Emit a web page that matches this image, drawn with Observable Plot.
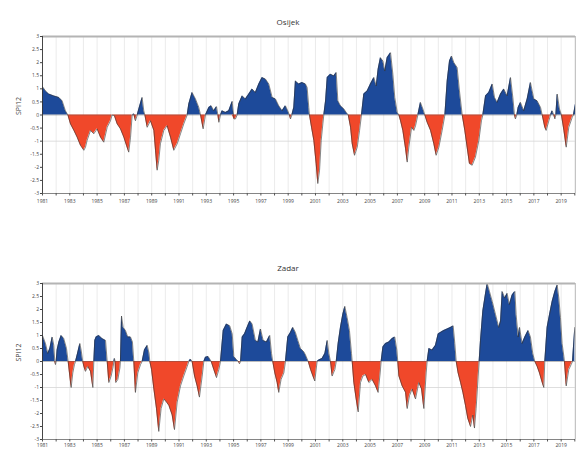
<!DOCTYPE html>
<html><head><meta charset="utf-8">
<script src="https://cdn.jsdelivr.net/npm/d3@7"></script>
<script src="https://cdn.jsdelivr.net/npm/@observablehq/plot@0.6"></script>
<style>
html,body{margin:0;padding:0;overflow:hidden;background:#fff;font-family:"Open Sans",sans-serif}
#wrap{position:relative;width:576px;height:450px;overflow:hidden}
.panel{position:absolute;left:0}
.title{position:absolute;left:0;width:576px;text-align:center;font-size:8px;color:#333;line-height:10px}
</style></head><body><div id="wrap"></div>
<script>
const stations = ["Osijek", "Zadar"];
const yAxisLabel = "SPI12";
const yTicks = [-3,-2.5,-2,-1.5,-1,-0.5,0,0.5,1,1.5,2,2.5,3];
const yearTicks = [1981,1982,1983,1984,1985,1986,1987,1988,1989,1990,1991,1992,1993,1994,1995,1996,1997,1998,1999,2000,2001,2002,2003,2004,2005,2006,2007,2008,2009,2010,2011,2012,2013,2014,2015,2016,2017,2018,2019,2020];
const labelYears = [1981,1983,1985,1987,1989,1991,1993,1995,1997,1999,2001,2003,2005,2007,2009,2011,2013,2015,2017,2019];
const droughtLine = [-1];

const osijekYears = [
1981.00,1981.22,1981.46,1981.83,1982.20,1982.44,1982.68,1982.86,1983.05,1983.30,
1983.54,1983.78,1984.03,1984.15,1984.27,1984.52,1984.76,1985.00,1985.25,1985.49,
1985.74,1985.98,1986.10,1986.27,1986.47,1986.71,1986.96,1987.15,1987.32,1987.45,
1987.57,1987.69,1987.81,1987.94,1988.06,1988.30,1988.42,1988.50,1988.67,1988.91,
1989.16,1989.28,1989.40,1989.52,1989.64,1989.89,1990.13,1990.38,1990.62,1990.87,
1991.11,1991.35,1991.60,1991.72,1991.96,1992.21,1992.45,1992.58,1992.77,1992.94,
1993.19,1993.36,1993.55,1993.75,1993.85,1993.92,1994.04,1994.16,1994.41,1994.65,
1994.90,1995.02,1995.14,1995.26,1995.38,1995.63,1995.87,1996.12,1996.36,1996.60,
1996.85,1997.09,1997.34,1997.58,1997.83,1998.07,1998.31,1998.56,1998.80,1998.97,
1999.09,1999.17,1999.27,1999.41,1999.53,1999.78,2000.02,2000.27,2000.39,2000.51,
2000.56,2000.71,2000.88,2001.05,2001.17,2001.30,2001.42,2001.54,2001.61,2001.74,
2001.86,2002.10,2002.35,2002.52,2002.64,2002.83,2003.08,2003.25,2003.40,2003.57,
2003.69,2003.86,2004.06,2004.23,2004.37,2004.54,2004.79,2005.03,2005.28,2005.45,
2005.59,2005.76,2005.94,2006.08,2006.25,2006.50,2006.67,2006.81,2006.99,2007.11,
2007.23,2007.40,2007.60,2007.72,2007.84,2008.04,2008.21,2008.33,2008.50,2008.69,
2008.87,2009.01,2009.18,2009.43,2009.67,2009.84,2010.04,2010.28,2010.48,2010.65,
2010.82,2010.97,2011.14,2011.38,2011.55,2011.75,2011.94,2012.11,2012.28,2012.48,
2012.72,2012.97,2013.16,2013.26,2013.46,2013.70,2013.95,2014.12,2014.31,2014.56,
2014.80,2015.04,2015.29,2015.46,2015.58,2015.65,2015.75,2015.85,2016.02,2016.26,
2016.51,2016.75,2017.00,2017.24,2017.49,2017.61,2017.80,2017.90,2018.10,2018.22,
2018.34,2018.46,2018.54,2018.61,2018.71,2018.88,2019.02,2019.20,2019.37,2019.56,
2019.81,2019.90,2020.05];
const osijekValues = [
1.08,0.92,0.80,0.73,0.67,0.54,0.16,0,-0.34,-0.59,
-0.85,-1.16,-1.35,-1.23,-0.97,-0.59,-0.72,-0.53,-0.85,-1.04,
-0.47,-0.22,0,-0.03,-0.34,-0.53,-0.85,-1.16,-1.42,-0.85,
0,0.04,-0.22,0,0.23,0.67,0.16,0,-0.47,-0.22,
-0.59,-1.35,-2.11,-1.73,-1.10,-0.59,-0.41,-0.85,-1.35,-1.10,
-0.72,-0.34,0,0.42,0.86,0.61,0.29,0,-0.53,0,
0.29,0.35,0.16,0.32,0,-0.28,0,0.16,0.10,0.16,
0.52,-0.15,-0.15,0,0.42,0.73,0.61,0.80,0.99,0.86,
1.18,1.43,1.37,1.18,0.67,0.61,0.35,0.16,0.35,0.16,
0,-0.15,0,0.29,1.30,1.18,1.24,1.18,1.05,0.29,
0,-0.47,-0.97,-1.86,-2.62,-2.11,-0.97,-0.34,0,0.54,
1.43,1.56,1.49,1.62,0.54,0.35,0.23,0.10,0,-0.47,
-1.10,-1.54,-1.23,-0.59,0,0.80,0.92,1.18,1.43,1.11,
1.75,2.19,2.06,1.68,2.19,2.38,1.56,0.67,0.10,0,
-0.22,-0.59,-1.29,-1.80,-1.23,-0.47,-0.59,-0.41,0,0.48,
0.23,0,-0.28,-0.59,-1.10,-1.54,-1.23,-0.59,0,1.30,
2.06,2.25,2.00,1.81,0.92,0,-0.59,-1.23,-1.86,-1.92,
-1.61,-0.97,-0.22,0,0.73,0.86,1.18,0.67,0.48,0.80,
0.99,0.73,1.43,0.67,0,-0.15,0,0.29,0.48,0.16,
0.61,1.24,0.61,0.54,0.29,0,-0.47,-0.59,-0.22,0,
0.16,0,-0.15,0,0.80,0.23,0,-0.59,-1.23,-0.47,
-0.09,0,0.42];

const zadarYears = [
1981.00,1981.22,1981.39,1981.54,1981.71,1981.83,1981.90,1981.95,1982.00,1982.07,
1982.20,1982.37,1982.56,1982.76,1982.88,1983.00,1983.10,1983.22,1983.34,1983.42,
1983.54,1983.74,1983.83,1983.95,1984.03,1984.15,1984.32,1984.52,1984.69,1984.76,
1984.83,1984.93,1985.13,1985.37,1985.62,1985.74,1985.86,1986.03,1986.18,1986.23,
1986.27,1986.32,1986.37,1986.52,1986.67,1986.71,1986.79,1986.91,1987.08,1987.25,
1987.45,1987.59,1987.69,1987.81,1987.98,1988.18,1988.30,1988.47,1988.67,1988.81,
1988.86,1988.99,1989.16,1989.35,1989.52,1989.69,1989.89,1990.08,1990.26,1990.50,
1990.67,1990.87,1991.11,1991.35,1991.60,1991.72,1991.84,1991.96,1992.14,1992.33,
1992.50,1992.70,1992.82,1992.94,1993.14,1993.36,1993.55,1993.75,1993.92,1994.04,
1994.24,1994.48,1994.72,1994.90,1995.02,1995.26,1995.36,1995.43,1995.51,1995.63,
1995.80,1995.99,1996.19,1996.36,1996.60,1996.78,1996.97,1997.17,1997.41,1997.65,
1997.78,1997.87,1998.02,1998.19,1998.31,1998.48,1998.68,1998.80,1998.97,1999.17,
1999.34,1999.53,1999.71,1999.90,2000.15,2000.27,2000.47,2000.64,2000.81,2000.95,
2001.12,2001.25,2001.49,2001.69,2001.86,2001.98,2002.10,2002.22,2002.42,2002.52,
2002.66,2002.83,2003.00,2003.15,2003.32,2003.49,2003.64,2003.69,2003.81,2003.98,
2004.13,2004.30,2004.47,2004.67,2004.91,2005.15,2005.40,2005.59,2005.74,2005.81,
2005.94,2006.13,2006.38,2006.62,2006.81,2006.96,2007.03,2007.11,2007.35,2007.60,
2007.72,2007.89,2008.08,2008.33,2008.57,2008.77,2008.94,2009.11,2009.18,2009.31,
2009.55,2009.79,2009.99,2010.16,2010.40,2010.65,2010.89,2011.09,2011.21,2011.31,
2011.45,2011.63,2011.80,2011.99,2012.16,2012.36,2012.53,2012.65,2012.77,2012.92,
2012.99,2013.09,2013.26,2013.46,2013.58,2013.75,2013.95,2014.19,2014.43,2014.56,
2014.68,2014.87,2015.04,2015.21,2015.41,2015.61,2015.70,2015.85,2015.95,2016.14,
2016.34,2016.58,2016.75,2016.92,2017.07,2017.24,2017.41,2017.61,2017.73,2017.80,
2017.97,2018.15,2018.34,2018.54,2018.71,2018.83,2018.95,2019.07,2019.20,2019.24,
2019.37,2019.56,2019.73,2019.83,2020.00];
const zadarValues = [
1.00,0.69,0.31,0.50,0.94,0.62,0,-0.12,0,0.44,
0.75,1.00,0.88,0.50,0,-0.56,-1.00,-0.44,-0.12,0,
0.25,0.69,0.44,0,-0.19,-0.38,-0.19,-0.38,-1.00,0,
0.81,0.94,1.00,0.88,0.81,0,-0.81,-0.56,-0.19,0,
0.12,0,-0.81,-0.69,-0.25,0,1.75,1.31,1.19,0.94,
0.94,0.75,0,-1.19,-0.44,-0.12,0,0.44,0.62,0.31,
0,-0.31,-1.06,-1.81,-2.69,-1.81,-1.44,-1.56,-1.69,-2.06,
-2.62,-1.56,-0.94,-0.56,-0.19,0,0.09,0,-0.56,-0.94,
-1.37,-0.56,0,0.16,0.19,0,-0.31,-0.62,-0.31,0,
1.19,1.44,1.37,1.06,0.19,0.04,0,-0.09,0,0.94,
1.06,1.31,1.56,1.44,0.81,0.75,1.25,0.81,0.75,1.00,
0.31,0,-0.44,-0.81,-1.19,-0.69,-0.44,0,0.94,1.12,
1.31,1.12,0.81,0.50,0.37,0.25,0,-0.31,-0.56,-0.75,
0,0.06,0.12,0.31,0.81,0.31,0,-0.56,-0.31,0,
0.69,1.31,1.81,2.12,1.69,1.19,0.31,0,-0.81,-1.44,
-1.94,-0.81,-0.56,-0.50,-0.81,-0.69,-0.94,-1.19,-0.44,0,
0.56,0.69,0.75,0.88,0.94,0.44,0,-0.56,-0.94,-1.19,
-1.81,-1.31,-1.06,-1.44,-0.81,-1.06,-1.81,-0.44,0,0.50,
0.44,0.62,1.06,1.12,1.19,1.25,1.31,1.37,0.69,0,
-0.44,-0.81,-1.19,-1.69,-2.19,-2.50,-2.06,-2.56,-1.81,-0.56,
0,0.81,1.94,2.62,3.00,2.69,2.31,1.81,1.31,1.56,
2.69,2.44,2.62,2.19,2.56,2.69,1.81,0.94,1.31,0.69,
0.94,1.19,0.94,0.31,0,-0.19,-0.44,-0.81,-1.00,0,
1.31,1.81,2.31,2.69,2.94,2.44,1.69,0.69,0.19,0,
-0.94,-0.31,-0.12,0,1.31];

const wetColor = "#1d4a9a";
const dryColor = "#f0482a";

function panel(name, years, values, top, titleTop, marginTop, plotH, tickPad) {
  const data = years.map((t, i) => ({t, v: values[i]}));
  const h = marginTop + plotH + 16;
  const xDomain = [1981, 2020.05];
  const chart = Plot.plot({
    width: 576, height: h,
    marginLeft: 42, marginRight: 1, marginTop: marginTop, marginBottom: 16,
    x: {domain: xDomain, label: null},
    y: {domain: [-3, 3], label: null},
    style: {fontFamily: "Open Sans, sans-serif", background: "#fff", color: "#444"},
    marks: [
      Plot.ruleX(yearTicks, {stroke: "#e3e3e3", strokeWidth: 0.7}),
      Plot.ruleY(droughtLine, {stroke: "#d6d6d6", strokeWidth: 0.8}),
      Plot.areaY(data, {x: "t", y: d => Math.max(0, d.v), fill: wetColor, clip: true}),
      Plot.areaY(data, {x: "t", y: d => Math.min(0, d.v), fill: dryColor, clip: true}),
      Plot.lineY(data, {x: "t", y: "v", stroke: "#333", strokeWidth: 0.7, strokeOpacity: 0.85, clip: true}),
      Plot.ruleY([0], {stroke: "#555", strokeWidth: 0.4}),
      Plot.ruleY([3], {stroke: "#b4b4b4", strokeWidth: 2}),
      Plot.ruleX([xDomain[1]], {stroke: "#c4c4c4", strokeWidth: 1}),
      Plot.ruleY([-3], {stroke: "#666", strokeWidth: 0.8}),
      Plot.ruleX([xDomain[0]], {stroke: "#333", strokeWidth: 0.9}),
      Plot.axisX({ticks: yearTicks, tickFormat: d => labelYears.includes(d) ? String(d) : "",
        tickSize: 2.5, tickPadding: tickPad, fontSize: 5, stroke: "#555", fill: "#444"}),
      Plot.axisY({ticks: yTicks, tickFormat: d => String(d), tickSize: 2, tickPadding: 1.5,
        fontSize: 5, stroke: "#444", fill: "#444"}),
      Plot.text([yAxisLabel], {frameAnchor: "left", rotate: -90, dx: -24, fontSize: 7, fill: "#444"})
    ]
  });
  chart.classList.add("panel");
  chart.style.top = top + "px";
  const wrap = document.getElementById("wrap");
  wrap.appendChild(chart);
  const title = document.createElement("div");
  title.className = "title";
  title.style.top = titleTop + "px";
  title.textContent = name;
  wrap.appendChild(title);
}

panel(stations[0], osijekYears, osijekValues, 0, 17, 36, 157, 3);
panel(stations[1], zadarYears, zadarValues, 230, 263, 53, 156, 1);
</script>
</body></html>
